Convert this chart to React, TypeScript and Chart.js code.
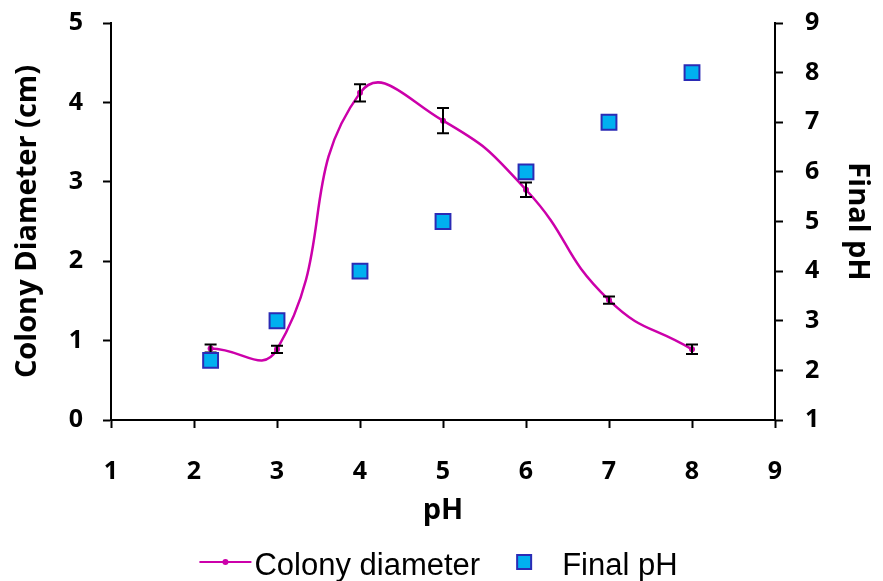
import React, { useEffect, useRef } from "react";
import { Chart, registerables } from "chart.js";

Chart.register(...registerables);

// ---- data ----
const phValues = [2.2, 3, 4, 5, 6, 7, 8];
const colonyDiameter = [0.9, 0.89, 4.12, 3.77, 2.9, 1.51, 0.89];
const colonyError = [0.05, 0.045, 0.11, 0.16, 0.09, 0.045, 0.06];
const finalPH = [2.2, 3, 4, 5, 6, 7, 8];
const xRange = [1, 9];
const leftRange = [0, 5];
const rightRange = [1, 9];
const seriesNames = ["Colony diameter", "Final pH"];
const axisTitles = { x: "pH", left: "Colony Diameter (cm)", right: "Final pH" };

const LINE_COLOR = "#CC00AA";
const SQ_FILL = "#00B0F0";
const SQ_BORDER = "#2B2BB5";
const TICK_FONT = { family: "'Open Sans'", size: 25, weight: "bold" as const };
const TITLE_FONT = { family: "'Open Sans'", size: 29, weight: "bold" as const };
const LEGEND_FONT = "31px 'Liberation Sans', Arial, sans-serif";

const errorBarPlugin = {
  id: "errorBars",
  afterDatasetDraw(chart: any, args: any) {
    if (args.index !== 0) return;
    const ds = chart.data.datasets[0];
    const errs: number[] = ds.errors || [];
    const xs = chart.scales.x;
    const ys = chart.scales.y;
    const ctx = chart.ctx;
    ctx.save();
    ctx.strokeStyle = "#000";
    ctx.lineWidth = 2;
    ds.data.forEach((p: any, i: number) => {
      const e = errs[i] || 0;
      const x = xs.getPixelForValue(p.x);
      const yt = ys.getPixelForValue(p.y + e);
      const yb = ys.getPixelForValue(p.y - e);
      ctx.beginPath();
      ctx.moveTo(x, yt);
      ctx.lineTo(x, yb);
      ctx.moveTo(x - 6, yt);
      ctx.lineTo(x + 6, yt);
      ctx.moveTo(x - 6, yb);
      ctx.lineTo(x + 6, yb);
      ctx.stroke();
    });
    ctx.restore();
  },
};

const legendPlugin = {
  id: "customLegend",
  afterDraw(chart: any) {
    const ctx = chart.ctx;
    const ds0 = chart.data.datasets[0];
    const ds1 = chart.data.datasets[1];
    ctx.save();
    ctx.font = LEGEND_FONT;
    const w1 = ctx.measureText(ds0.label).width;
    const w2 = ctx.measureText(ds1.label).width;
    const lineLen = 52;
    const total = lineLen + 3 + w1 + 44 + 38 + w2;
    const x0 = chart.width / 2 - 3 - total / 2;
    const yMid = 562;
    const yBase = 575;
    // line sample
    ctx.strokeStyle = ds0.borderColor;
    ctx.lineWidth = 2;
    ctx.beginPath();
    ctx.moveTo(x0, yMid);
    ctx.lineTo(x0 + lineLen, yMid);
    ctx.stroke();
    ctx.fillStyle = ds0.borderColor;
    ctx.beginPath();
    ctx.arc(x0 + lineLen / 2, yMid, 3, 0, Math.PI * 2);
    ctx.fill();
    ctx.fillStyle = "#000";
    ctx.textBaseline = "alphabetic";
    ctx.textAlign = "left";
    const t1 = x0 + lineLen + 3;
    ctx.fillText(ds0.label, t1, yBase);
    // square sample
    const sx = t1 + w1 + 44;
    ctx.fillStyle = ds1.backgroundColor;
    ctx.fillRect(sx - 7, yMid - 7, 14, 14);
    ctx.strokeStyle = ds1.borderColor;
    ctx.lineWidth = 2;
    ctx.strokeRect(sx - 7, yMid - 7, 14, 14);
    ctx.fillStyle = "#000";
    ctx.fillText(ds1.label, sx + 38, yBase);
    ctx.restore();
  },
};

export default function App() {
  const ref = useRef<HTMLCanvasElement | null>(null);

  useEffect(() => {
    document.body.style.margin = "0";
    const canvas = ref.current;
    if (!canvas) return;
    const chart = new Chart(canvas, {
      type: "scatter",
      data: {
        datasets: [
          {
            label: seriesNames[0],
            data: phValues.map((x, i) => ({ x, y: colonyDiameter[i] })),
            errors: colonyError,
            showLine: true,
            tension: 0.5,
            borderColor: LINE_COLOR,
            backgroundColor: LINE_COLOR,
            borderWidth: 2.5,
            pointRadius: 3,
            pointBorderWidth: 0,
            yAxisID: "y",
            order: 2,
          } as any,
          {
            label: seriesNames[1],
            data: phValues.map((x, i) => ({ x, y: finalPH[i] })),
            showLine: false,
            pointStyle: "rect",
            pointRadius: 10.5,
            backgroundColor: SQ_FILL,
            borderColor: SQ_BORDER,
            pointBorderWidth: 2,
            borderWidth: 2,
            yAxisID: "y1",
            order: 1,
          } as any,
        ],
      },
      options: {
        responsive: false,
        animation: false,
        layout: { padding: { top: 23, bottom: 51, left: 0, right: 0 } },
        plugins: {
          legend: { display: false },
          tooltip: { enabled: false },
        },
        scales: {
          x: {
            type: "linear",
            min: xRange[0],
            max: xRange[1],
            ticks: { stepSize: 1, color: "#000", font: TICK_FONT, padding: 29 },
            grid: {
              drawOnChartArea: false,
              drawTicks: true,
              tickLength: 8,
              tickColor: "#000",
              tickWidth: 2,
            },
            border: { color: "#000", width: 2 },
            title: {
              display: true,
              text: axisTitles.x,
              color: "#000",
              font: TITLE_FONT,
              padding: { top: 0, bottom: 2 },
            },
            afterFit: (s: any) => {
              s.height = 110;
            },
          },
          y: {
            type: "linear",
            position: "left",
            min: leftRange[0],
            max: leftRange[1],
            ticks: { stepSize: 1, color: "#000", font: TICK_FONT, padding: 20 },
            grid: {
              drawOnChartArea: false,
              drawTicks: true,
              tickLength: 8,
              tickColor: "#000",
              tickWidth: 2,
            },
            border: { color: "#000", width: 2 },
            title: {
              display: true,
              text: axisTitles.left,
              color: "#000",
              font: TITLE_FONT,
              padding: { top: 10, bottom: 0 },
            },
            afterFit: (s: any) => {
              s.width = 111;
              s.paddingTop = 0;
              s.paddingBottom = 0;
            },
          },
          y1: {
            type: "linear",
            position: "right",
            min: rightRange[0],
            max: rightRange[1],
            ticks: { stepSize: 1, color: "#000", font: TICK_FONT, padding: 22 },
            grid: {
              drawOnChartArea: false,
              drawTicks: true,
              tickLength: 8,
              tickColor: "#000",
              tickWidth: 2,
            },
            border: { color: "#000", width: 2 },
            title: {
              display: true,
              text: axisTitles.right,
              color: "#000",
              font: TITLE_FONT,
              padding: { top: 8, bottom: 0 },
            },
            afterFit: (s: any) => {
              s.width = 108;
              s.paddingTop = 0;
              s.paddingBottom = 0;
            },
          },
        },
      } as any,
      plugins: [errorBarPlugin, legendPlugin],
    });
    return () => chart.destroy();
  }, []);

  return (
    <div style={{ position: "absolute", left: 0, top: 0, width: 883, height: 581, background: "#fff" }}>
      <canvas ref={ref} width={883} height={581} />
    </div>
  );
}
